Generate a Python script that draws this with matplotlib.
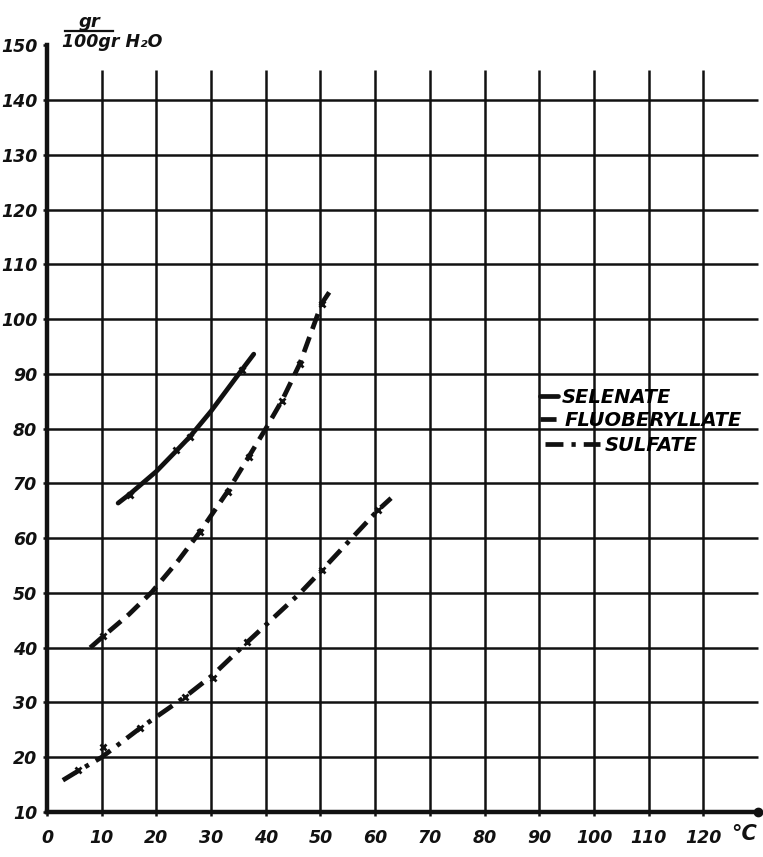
import matplotlib.pyplot as plt
from matplotlib.lines import Line2D

plt.rcParams['font.family'] = ['DejaVu Sans']
plt.rcParams['font.weight'] = 'bold'
plt.rcParams['font.style'] = 'oblique'

INK = '#111111'

# ---- solubility readings (g per 100 g water vs temperature, deg C) ----
# traced curve vertices
sel_t = [13.0, 15.2, 20.0, 23.6, 26.1, 30.0, 35.6, 37.8]
sel_s = [66.4, 68.1, 72.2, 75.9, 78.5, 83.2, 90.7, 93.6]
flu_t = [7.9, 10.3, 15.0, 19.2, 24.0, 28.0, 33.0, 36.9, 40.0, 43.0, 46.2, 50.2, 51.8]
flu_s = [40.0, 42.1, 46.1, 50.2, 55.9, 61.2, 68.5, 74.9, 80.0, 85.2, 91.8, 102.8, 105.2]
sul_t = [2.9, 5.7, 10.0, 17.0, 25.2, 30.3, 36.6, 46.3, 50.3, 60.5, 62.9]
sul_s = [15.8, 17.5, 20.0, 25.3, 31.0, 35.0, 41.0, 50.0, 54.2, 65.1, 67.3]

# measured points (crosses)
sel_pt_t = [15.2, 23.6, 26.1, 35.6]
sel_pt_s = [67.9, 76.1, 78.5, 90.7]
flu_pt_t = [10.3, 28.0, 33.0, 36.9, 43.0, 46.2, 50.2]
flu_pt_s = [42.1, 61.2, 68.5, 74.9, 85.0, 91.8, 102.8]
sul_pt_t = [5.7, 10.2, 17.0, 25.2, 30.3, 36.6, 50.3, 60.5]
sul_pt_s = [17.7, 21.8, 25.3, 31.0, 34.5, 41.0, 54.2, 65.1]

x_ticks = list(range(0, 121, 10))
y_ticks = list(range(10, 151, 10))
x_max, y_min, y_top = 130, 10, 150
grid_top = 145.5

fig = plt.figure(figsize=(7.63, 8.57), dpi=100)
px_x, px_y = 5.47, 5.477
ax = fig.add_axes([47 / 763, 1 - 812 / 857, 131 * px_x / 763, 141 * px_y / 857])
ax.set_xlim(0, 131)
ax.set_ylim(10, 151)

# grid
ax.vlines(x_ticks[1:], y_min, grid_top, color=INK, lw=1.8, zorder=1)
ax.hlines(y_ticks[1:-1], 0, x_max, color=INK, lw=1.8, zorder=1)

# axes
for s in ['top', 'right']:
    ax.spines[s].set_visible(False)
ax.spines['left'].set_bounds(y_min, y_top)
ax.spines['bottom'].set_bounds(0, x_max)
for s in ['left', 'bottom']:
    ax.spines[s].set_linewidth(3.2)
    ax.spines[s].set_color(INK)
ax.plot([x_max], [y_min], 'o', color=INK, ms=6, clip_on=False, zorder=5)

ax.set_xticks(x_ticks)
ax.set_yticks(y_ticks)
ax.tick_params(length=3, width=1.8, color=INK, labelsize=12.5, labelcolor=INK)
ax.tick_params(axis='x', pad=9)
ax.tick_params(axis='y', pad=4)
for lab in ax.get_xticklabels() + ax.get_yticklabels():
    lab.set_fontweight('bold')
    lab.set_fontstyle('oblique')

# curves
lw = 3.4
sel_line, = ax.plot(sel_t, sel_s, color=INK, lw=lw, solid_capstyle='round',
                    solid_joinstyle='round', zorder=3)
flu_line, = ax.plot(flu_t, flu_s, color=INK, lw=lw, ls=(0, (3.4, 1.8)),
                    dash_capstyle='butt', dash_joinstyle='round', zorder=3)
sul_line, = ax.plot(sul_t, sul_s, color=INK, lw=lw, ls=(0, (3.8, 1.7, 0.9, 1.7)),
                    dash_capstyle='butt', dash_joinstyle='round', zorder=3)

for t, s in [(sel_pt_t, sel_pt_s), (flu_pt_t, flu_pt_s), (sul_pt_t, sul_pt_s)]:
    ax.plot(t, s, ls='none', marker='x', ms=5, mew=2.0, color=INK, zorder=4)

# legend, one entry per handle length
entries = [
    (sel_line, 'SELENATE', 0.9, 540, 397),
    (flu_line, 'FLUOBERYLLATE', 1.05, 540, 420),
    (sul_line, 'SULFATE', 2.85, 545, 445),
]
for handle, label, hl, px, py in entries:
    leg = fig.legend([handle], [label], loc='center left',
                     bbox_to_anchor=(px / 763, 1 - py / 857),
                     frameon=False, handlelength=hl, handletextpad=0.2,
                     borderpad=0, borderaxespad=0,
                     prop={'size': 14, 'weight': 'bold', 'style': 'oblique'})

# unit label
fig.text(90 / 763, 1 - 22 / 857, 'gr', ha='center', va='center',
         fontsize=13, fontweight='bold', fontstyle='oblique', color=INK)
fig.add_artist(Line2D([65 / 763, 113 / 763], [1 - 31 / 857, 1 - 31 / 857],
                      color=INK, lw=1.6))
fig.text(62 / 763, 1 - 42 / 857, '100gr H\u2082O', ha='left', va='center',
         fontsize=12.5, fontweight='bold', fontstyle='oblique', color=INK)

# temperature unit
ax.text(127.5, y_min - 2.2, '\u00b0C', ha='center', va='top', fontsize=15,
        fontweight='bold', fontstyle='oblique', color=INK, clip_on=False)

fig.savefig('out.png', dpi=100, facecolor='white')
